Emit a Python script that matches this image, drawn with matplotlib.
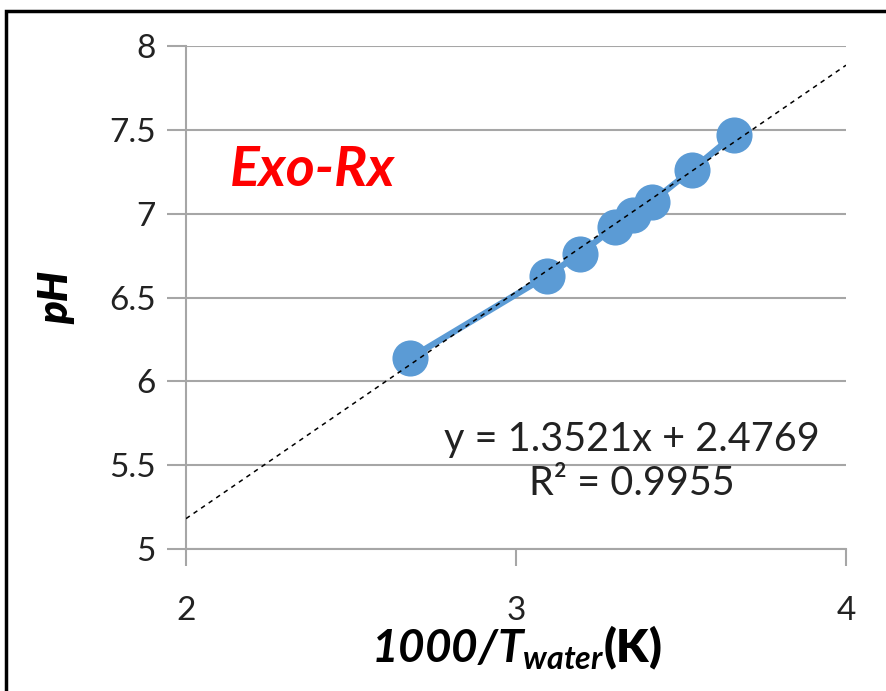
import matplotlib.pyplot as plt
import numpy as np
from matplotlib.patches import Rectangle

# data: 1000/T (K^-1) vs pH
inv_t = [2.680, 3.095, 3.193, 3.299, 3.354, 3.411, 3.532, 3.661]
ph = [6.14, 6.63, 6.76, 6.92, 6.99, 7.07, 7.26, 7.47]

slope, intercept = 1.3521, 2.4769
fit_x = [2.0, 4.0]
eq_text = "y = 1.3521x + 2.4769"
r2_text = "R\u00b2 = 0.9955"

plt.rcParams['font.family'] = ['Lato', 'DejaVu Sans']
plt.rcParams['mathtext.fontset'] = 'custom'
plt.rcParams['mathtext.rm'] = 'Lato:italic:bold'
plt.rcParams['mathtext.it'] = 'Lato:italic:bold'
plt.rcParams['mathtext.bf'] = 'Lato:italic:bold'

fig = plt.figure(figsize=(8.86, 6.91), dpi=100)
ax = fig.add_axes([186/886, 1-549/691, 660/886, 503/691])

grid_c = "#A6A6A6"
blue = "#5B9BD5"

ax.plot(inv_t, ph, color=blue, linewidth=4.5, marker='o', markersize=26,
        markeredgewidth=0, zorder=3)
fit_y = [slope*v + intercept for v in fit_x]
ax.plot(fit_x, fit_y, color="black", linestyle=(0, (3, 3)), linewidth=1.1, zorder=4)

ax.set_xlim(2, 4)
ax.set_ylim(5, 8)
ax.set_xticks([2, 3, 4])
ax.set_yticks([5, 5.5, 6, 6.5, 7, 7.5, 8])
ax.set_yticklabels(["5", "5.5", "6", "6.5", "7", "7.5", "8"])
ax.yaxis.grid(True, color=grid_c, linewidth=1.5)
ax.set_axisbelow(True)
for s in ["top", "right"]:
    ax.spines[s].set_visible(False)
for s in ["left", "bottom"]:
    ax.spines[s].set_color(grid_c)
    ax.spines[s].set_linewidth(1.5)
ax.tick_params(axis='x', direction='out', length=12, width=1.5, color=grid_c,
               labelsize=24, pad=22, labelcolor="#222222")
ax.tick_params(axis='y', direction='out', length=14, width=1.5, color=grid_c,
               labelsize=24, pad=8, labelcolor="#222222")

ax.set_xlabel(r"$1000/T_{water}$(K)", fontsize=33, fontweight='heavy', labelpad=-2)
ax.set_ylabel("pH", fontsize=30, fontweight='heavy', style='italic', labelpad=24)

ax.text(0.192, 0.753, "Exo-Rx", transform=ax.transAxes, color="red",
        fontsize=40, fontweight='bold', style='italic', ha='center', va='center')
ax.text(0.676, 0.217, eq_text, transform=ax.transAxes, fontsize=28.5,
        ha='center', va='center', color="#222222")
ax.text(0.676, 0.131, r2_text, transform=ax.transAxes, fontsize=28.5,
        ha='center', va='center', color="#222222")

fig.patches.append(Rectangle((6/886, -0.1), 1.2, 1 - 11/691 + 0.1,
                             transform=fig.transFigure, fill=False,
                             edgecolor="black", linewidth=2.5))

fig.savefig("out.png", dpi=100)
